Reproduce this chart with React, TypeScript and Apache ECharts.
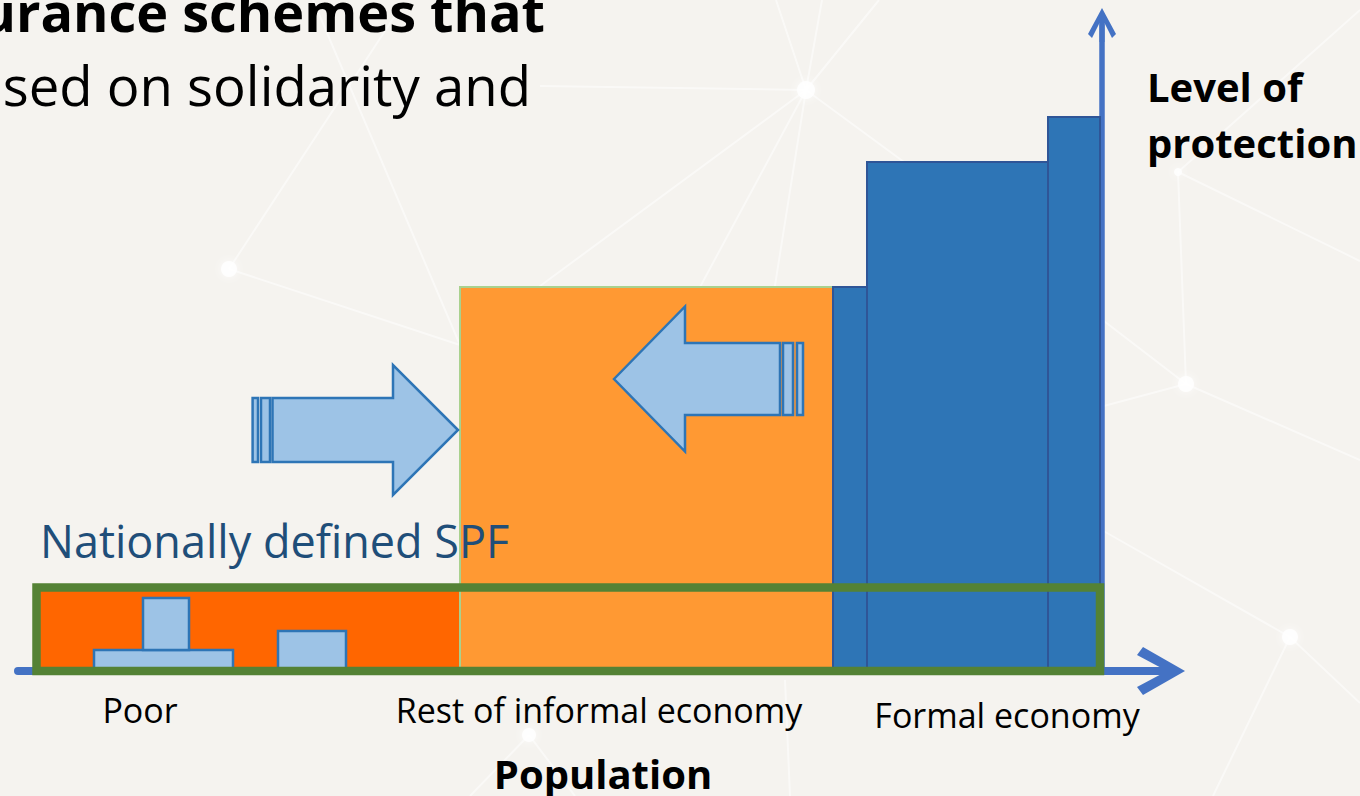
import React, { useEffect, useRef } from "react";
import * as echarts from "echarts";

// ---- Data (population units along x, protection-level units along y) ----
const populationGroups = ["Poor", "Rest of informal economy", "Formal economy"];
const groupLabelAt = [122, 581, 989];
// [start, end, level of protection]
const poorLevel = [[18, 442, 84]];
const informalLevel = [[442, 815, 384]];
const formalLevels = [
  [815, 849, 384],
  [849, 1030, 509],
  [1030, 1082, 554],
];
// existing small schemes for the poor: [x0, x1, y0, y1]
const poorSchemes = [
  [76, 215, 0, 21],
  [125, 171, 21, 73],
  [260, 328, 0, 40],
];
// nationally defined social protection floor: [x0, x1, y0, y1]
const spfFloor = [[18.5, 1082, 0, 83.5]];
// extension arrows: [tipX, headBaseX, shaftEndX, centerY, shaftHalf, headHalf, stripe1a, stripe1b, stripe2a, stripe2b]
const shiftArrows = [
  [440, 375, 254.5, 241, 32, 65, 243, 252, 234.6, 240],
  [596, 667, 762, 292, 36, 72.5, 765, 775, 779, 785],
];
const xMax = 1142;
const yMax = 646;

const FONT = "Open Sans";
const X_ARROW = "path://M24 0L48 42L40 48L24 18L8 48L0 42ZM20 14L28 14L28 50L20 50Z";
const Y_ARROW = "path://M14 0L28 26L24 30L14 10L4 30L0 26ZM11.5 8L16.5 8L16.5 34L11.5 34Z";

const toRect = (rows: number[][]) => rows.map((r) => [r[0], r[1], 0, r[2]]);

function rectSeries(name: string, data: number[][], style: any, z: number) {
  return {
    type: "custom",
    name,
    z,
    silent: true,
    data,
    renderItem: (_params: any, api: any) => {
      const a = api.coord([api.value(0), api.value(3)]);
      const b = api.coord([api.value(1), api.value(2)]);
      return {
        type: "rect",
        shape: { x: a[0], y: a[1], width: b[0] - a[0], height: b[1] - a[1] },
        style,
      };
    },
  };
}

const arrowStyle = { fill: "#9dc3e6", stroke: "#2e75b6", lineWidth: 2.5 };

const bgLines: number[][] = [
  [806, 90, 540, 86],
  [806, 90, 460, 345],
  [806, 90, 650, 380],
  [806, 90, 760, 380],
  [806, 90, 1040, 262],
  [806, 90, 776, 0],
  [806, 90, 822, 0],
  [806, 90, 879, 0],
  [229, 269, 400, 8],
  [229, 269, 460, 345],
  [313, 0, 460, 345],
  [1186, 384, 1178, 172],
  [1178, 172, 1360, 261],
  [1178, 172, 1360, 10],
  [1186, 384, 1100, 318],
  [1186, 384, 1100, 407],
  [1186, 384, 1360, 460],
  [1100, 529, 1290, 637],
  [1290, 637, 1360, 703],
  [1290, 637, 1213, 796],
  [529, 735, 575, 796],
  [529, 735, 470, 796],
  [785, 680, 790, 796],
];
const bgNodes: number[][] = [
  [806, 90, 9],
  [229, 269, 8],
  [1186, 384, 8],
  [1178, 172, 4],
  [1290, 637, 8],
  [529, 735, 7],
];

export default function App() {
  const ref = useRef<HTMLDivElement>(null);
  useEffect(() => {
    if (!ref.current) return;
    const chart = echarts.init(ref.current, null, { renderer: "svg" });
    const graphics: any[] = [];
    bgLines.forEach((l) =>
      graphics.push({
        type: "line",
        z: -10,
        silent: true,
        shape: { x1: l[0], y1: l[1], x2: l[2], y2: l[3] },
        style: { stroke: "rgba(255,255,255,0.5)", lineWidth: 2 },
      })
    );
    bgNodes.forEach((n) =>
      graphics.push({
        type: "circle",
        z: -9,
        silent: true,
        shape: { cx: n[0], cy: n[1], r: n[2] },
        style: { fill: "rgba(255,255,255,0.85)", shadowBlur: 8, shadowColor: "rgba(255,255,255,0.9)" },
      })
    );
    graphics.push(
      {
        type: "text",
        z: 20,
        style: {
          text: "urance schemes that",
          x: 545,
          y: 11,
          align: "right",
          verticalAlign: "middle",
          fontFamily: FONT,
          fontSize: 54,
          fontWeight: "bold",
          fill: "#000",
        },
      },
      {
        type: "text",
        z: 20,
        style: {
          text: "sed on solidarity and",
          x: 531,
          y: 85,
          align: "right",
          verticalAlign: "middle",
          fontFamily: FONT,
          fontSize: 54.5,
          fill: "#000",
        },
      },
      {
        type: "text",
        z: 20,
        style: {
          text: "Nationally defined SPF",
          x: 40,
          y: 540,
          align: "left",
          verticalAlign: "middle",
          fontFamily: FONT,
          fontSize: 45,
          fill: "#1f4e79",
        },
      }
    );

    const option: any = {
      animation: false,
      backgroundColor: "#f5f3ef",
      grid: { left: 18, right: 200, top: 25, bottom: 125, containLabel: false, outerBoundsMode: "none" },
      xAxis: {
        type: "value",
        min: 0,
        max: xMax,
        axisLine: {
          show: true,
          onZero: false,
          lineStyle: { color: "#4472c4", width: 8 },
          symbol: ["none", X_ARROW],
          symbolSize: [48, 50],
        },
        axisTick: { show: false },
        splitLine: { show: false },
        axisLabel: {
          customValues: groupLabelAt,
          margin: 22,
          color: "#000",
          fontFamily: FONT,
          fontSize: 34,
          formatter: (v: number) => {
            const i = groupLabelAt.indexOf(v);
            if (i < 0) return "";
            return i === 2 ? `{b|${populationGroups[i]}}` : `{a|${populationGroups[i]}}`;
          },
          rich: {
            a: { fontFamily: FONT, fontSize: 34, color: "#000", lineHeight: 34 },
            b: { fontFamily: FONT, fontSize: 34, color: "#000", lineHeight: 34, padding: [9, 0, 0, 0] },
          },
        },
        name: "Population",
        nameLocation: "middle",
        nameGap: 82,
        nameMoveOverlap: false,
        nameTextStyle: {
          fontFamily: FONT,
          fontSize: 40,
          fontWeight: "bold",
          color: "#000",
          padding: [0, 0, 0, 28],
        },
      },
      yAxis: {
        type: "value",
        min: 0,
        max: yMax,
        position: "right",
        offset: -58,
        axisLine: {
          show: true,
          onZero: false,
          lineStyle: { color: "#4472c4", width: 5.5 },
          symbol: ["none", Y_ARROW],
          symbolSize: [28, 34],
        },
        axisTick: { show: false },
        axisLabel: { show: false },
        splitLine: { show: false },
        name: "Level of\nprotection",
        nameLocation: "end",
        nameGap: -33.5,
        nameMoveOverlap: false,
        nameTextStyle: {
          align: "left",
          verticalAlign: "top",
          padding: [0, 0, 0, 45],
          fontFamily: FONT,
          fontSize: 40,
          fontWeight: "bold",
          lineHeight: 56,
          color: "#000",
        },
      },
      graphic: graphics,
      series: [
        rectSeries("Poor", toRect(poorLevel), { fill: "#ff6600" }, 2),
        rectSeries("Rest of informal economy", toRect(informalLevel), { fill: "#ff9933", stroke: "#a9d18e", lineWidth: 2 }, 3),
        rectSeries("Formal economy", toRect(formalLevels), { fill: "#2e75b6", stroke: "#2f5597", lineWidth: 2 }, 3),
        rectSeries("Existing schemes", poorSchemes, { fill: "#9dc3e6", stroke: "#2e75b6", lineWidth: 2.5 }, 4),
        rectSeries("SPF", spfFloor, { fill: "none", stroke: "#548235", lineWidth: 8.5 }, 5),
        {
          type: "custom",
          name: "Extension",
          z: 6,
          silent: true,
          data: shiftArrows,
          renderItem: (_params: any, api: any) => {
            const tip = api.value(0);
            const base = api.value(1);
            const end = api.value(2);
            const cy = api.value(3);
            const sh = api.value(4);
            const hh = api.value(5);
            const pts = [
              [tip, cy],
              [base, cy + hh],
              [base, cy + sh],
              [end, cy + sh],
              [end, cy - sh],
              [base, cy - sh],
              [base, cy - hh],
            ].map((p) => api.coord(p));
            const stripe = (a: number, b: number) => {
              const p = api.coord([a, cy + sh]);
              const q = api.coord([b, cy - sh]);
              return {
                type: "rect",
                shape: { x: Math.min(p[0], q[0]), y: p[1], width: Math.abs(q[0] - p[0]), height: q[1] - p[1] },
                style: arrowStyle,
              };
            };
            return {
              type: "group",
              children: [
                { type: "polygon", shape: { points: pts }, style: arrowStyle },
                stripe(api.value(6), api.value(7)),
                stripe(api.value(8), api.value(9)),
              ],
            };
          },
        },
      ],
    };
    chart.setOption(option);
    return () => chart.dispose();
  }, []);
  return (
    <div
      ref={ref}
      style={{ position: "fixed", left: 0, top: 0, width: 1360, height: 796 }}
    />
  );
}
